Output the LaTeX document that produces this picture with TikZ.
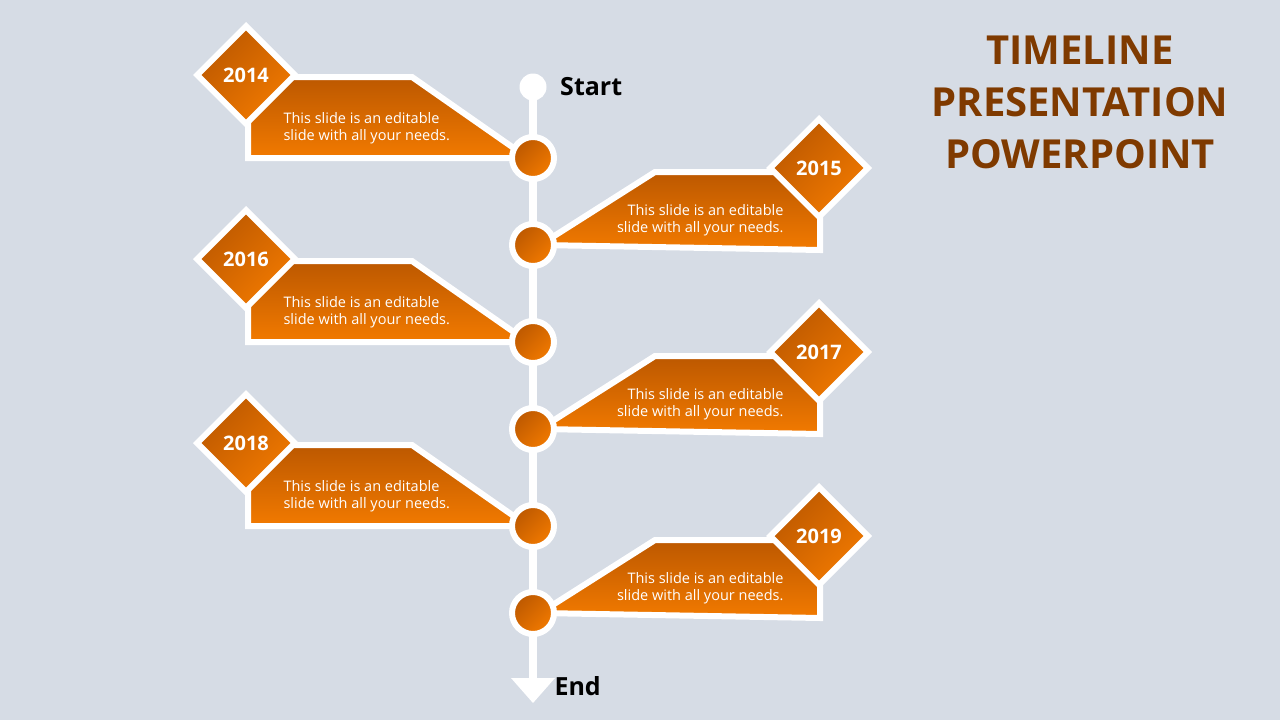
\documentclass[tikz,border=0pt]{standalone}
\usepackage{fontspec}
\setmainfont{Open Sans}
\usetikzlibrary{positioning,shapes.geometric}
\definecolor{bgcol}{HTML}{D6DCE5}
\definecolor{orgdark}{HTML}{BC5800}
\definecolor{orglight}{HTML}{F27A00}
\definecolor{titlecol}{HTML}{7F3A00}
\tikzset{
  flag/.style={draw=white, line width=6pt, line join=miter, top color=orgdark, bottom color=orglight},
  yearbox/.style={diamond, draw=white, line width=6pt, minimum size=100pt, inner sep=0pt, top color=orgdark, bottom color=orglight, shading angle=45, text=white, font=\bfseries\fontsize{20}{22}\selectfont},
  dot/.style={circle, draw=white, line width=6pt, minimum size=42pt, inner sep=0pt, top color=orgdark, bottom color=orglight, shading angle=45},
  note/.style={text=white, font=\fontsize{14.5}{17}\selectfont, align=left},
  endlabel/.style={font=\bfseries\fontsize{25}{28}\selectfont}
}
\begin{document}
\begin{tikzpicture}[x=1pt,y=-1pt]
  \fill[bgcol] (0,0) rectangle (1280,720);
  \useasboundingbox (0,0) rectangle (1280,720);
  % axis
  \draw[white, line width=8pt] (533,87) -- (533,682);
  \fill[white] (511,678) -- (555,678) -- (533,703) -- cycle;
  \node[circle, fill=white, minimum size=27pt, inner sep=0pt] (start) at (533,87) {};
  \node[endlabel, right=10pt of start] {Start};
  \coordinate (endtip) at (533,686);
  \node[endlabel, right=18pt of endtip] {End};
  % left flags
  \foreach \yr/\y in {2014/0, 2016/184, 2018/368} {
    \draw[flag] (248,77+\y) -- (412,77+\y) -- (528,158+\y) -- (248,158+\y) -- cycle;
    \node[dot] (d\yr) at (533,158+\y) {};
    \node[yearbox] (y\yr) at (246,75+\y) {\yr};
    \node[note, anchor=west] (t\yr) at (280,128+\y) {This slide is an editable\\slide with all your needs.};
  }
  % right flags
  \foreach \yr/\y in {2015/0, 2017/184, 2019/368} {
    \draw[flag] (655,172+\y) -- (820,172+\y) -- (820,250+\y) -- (540,245+\y) -- cycle;
    \node[dot] (d\yr) at (533,245+\y) {};
    \node[yearbox] (y\yr) at (819,168+\y) {\yr};
    \node[note, anchor=east, align=right] (t\yr) at (787,220+\y) {This slide is an editable\\slide with all your needs.};
  }
  % title
  \node[text=titlecol, font=\bfseries\fontsize{40}{52}\selectfont, align=center] (title) at (1080,102) {TIMELINE\\PRESENTATION\\POWERPOINT};
\end{tikzpicture}
\end{document}
